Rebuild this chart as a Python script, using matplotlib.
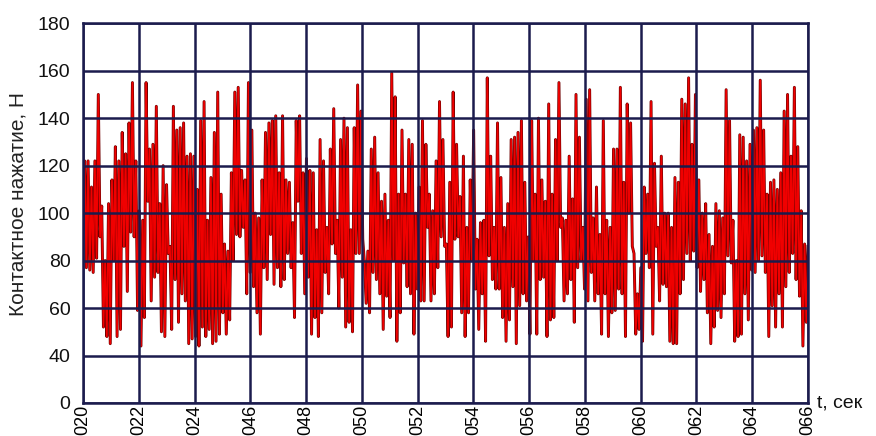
import numpy as np
import matplotlib
matplotlib.use('Agg')
import matplotlib.pyplot as plt

# контактное нажатие, значения (пики/провалы по порядку)
seg1 = [100, 122, 77, 122, 76, 111, 75, 122, 81, 150, 90, 103, 52, 80, 48, 104, 45, 114, 80,
        128, 48, 122, 51, 134, 86, 125, 67, 138, 92, 155, 90, 122, 59, 101, 44, 97, 56, 155, 105,
        127, 63, 129, 73, 145, 75, 104, 50, 120, 48, 112, 83, 86, 51, 145, 72, 135, 54, 136, 66,
        138, 63, 124, 45, 125, 47]
seg2 = [124, 48, 110, 44, 139, 52, 147, 48, 97, 51, 115, 45, 134, 46, 151, 49, 108, 58, 87, 49,
        84, 55, 117, 80, 151, 91, 153, 90, 118, 94, 114, 66, 155, 75, 135, 69, 100, 58, 98, 49,
        114, 77, 134, 72, 138, 91, 139, 70, 141, 77, 117, 69, 141, 72, 114, 83, 113, 77, 96, 56,
        139, 105, 141, 83, 117, 66, 123, 73]
seg3 = [118, 49, 117, 56, 93, 48, 131, 58, 122, 75, 94, 66, 127, 87, 144, 83, 97, 60, 131, 73,
        140, 52, 136, 54, 93, 50, 136, 83, 154, 83, 143, 89, 79, 62, 84, 58, 127, 75, 132, 72,
        117, 66, 105, 51, 108, 65, 97, 56, 159, 80, 149, 46, 108, 58, 135, 79, 108, 69, 131, 66,
        129, 49, 100, 68, 111, 63, 139, 63, 129, 94, 108, 63]
seg4 = [101, 66, 122, 77, 147, 90, 131, 86, 87, 48, 113, 52, 151, 89, 129, 90, 107, 58, 124, 48,
        94, 58, 114, 80, 135, 68, 89, 51, 96, 66, 97, 46, 157, 82, 124, 72, 94, 68, 138, 68,
        115, 56, 94, 46, 104, 55, 131, 69, 132, 45, 134, 61, 139, 66, 113, 63, 90, 49, 139, 80,
        108, 49, 140, 72, 114, 73, 105, 48, 146, 55]
seg5 = [108, 56, 131, 80, 155, 94, 98, 63, 97, 66, 124, 72, 106, 54, 150, 77, 132, 80, 94, 68,
        148, 63, 152, 75, 98, 63, 111, 66, 91, 49, 139, 66, 97, 48, 94, 58, 127, 59, 127, 68,
        153, 66, 113, 48, 146, 100, 138, 86, 83, 49, 66, 51, 77, 46, 111, 83, 108, 77, 147, 49,
        121, 86, 94, 63, 124, 70, 100, 69, 100, 46, 94, 45]
seg6 = [115, 45, 113, 66, 148, 72, 146, 83, 157, 80, 129, 84, 150, 77, 114, 67, 100, 72, 104, 58,
        91, 45, 86, 52, 104, 59, 101, 56, 98, 66, 152, 82, 139, 79, 97, 46, 80, 48, 133, 49,
        132, 66, 122, 55, 129, 76, 135, 75, 136, 80, 156, 82, 135, 75, 108, 48, 113, 61, 114, 52,
        110, 66, 117, 52, 143, 69, 150, 75, 124, 83, 153, 72, 128, 65, 101, 44, 87, 54, 86]

xlabels = ['020', '022', '024', '046', '048', '050', '052', '054',
           '056', '058', '060', '062', '064', '066']
yticks = [20, 40, 60, 80, 100, 120, 140, 160, 180]
ylabels = ['0', '40', '60', '80', '100', '120', '140', '160', '180']

force = np.array(seg1 + seg2 + seg3 + seg4 + seg5 + seg6, dtype=float)
t = np.linspace(0, len(xlabels) - 1, len(force))

plt.rcParams['font.family'] = ['Liberation Sans', 'DejaVu Sans']
grid_c = '#1b1b4d'

fig = plt.figure(figsize=(8.76, 4.36), dpi=100)
ax = fig.add_axes([0.0947, 0.0757, 0.8277, 0.871])

ax.plot(t, force, color='#6e0000', lw=2.1, zorder=2)
ax.plot(t, force, color='#f00000', lw=1.2, zorder=2)

ax.set_xlim(0, len(xlabels) - 1)
ax.set_ylim(20, 180)
ax.set_xticks(range(len(xlabels)))
ax.set_xticklabels(xlabels, rotation=90, fontsize=13, va='top')
ax.set_yticks(yticks)
ax.set_yticklabels(ylabels, fontsize=14, color='#111111')
ax.tick_params(length=0)
ax.tick_params(axis='y', pad=9)
ax.tick_params(axis='x', pad=1)

ax.set_axisbelow(False)
ax.grid(True, color=grid_c, lw=1.8)
for s in ax.spines.values():
    s.set_color(grid_c)
    s.set_linewidth(1.8)

ax.set_ylabel('Контактное нажатие, Н', fontsize=15, color='#222222')
ax.yaxis.set_label_coords(-0.077, 0.523)
ax.text(1.013, 0.0, 't, сек', transform=ax.transAxes, fontsize=14,
        va='center', ha='left', color='#111111')

fig.savefig('out.png', dpi=100)
